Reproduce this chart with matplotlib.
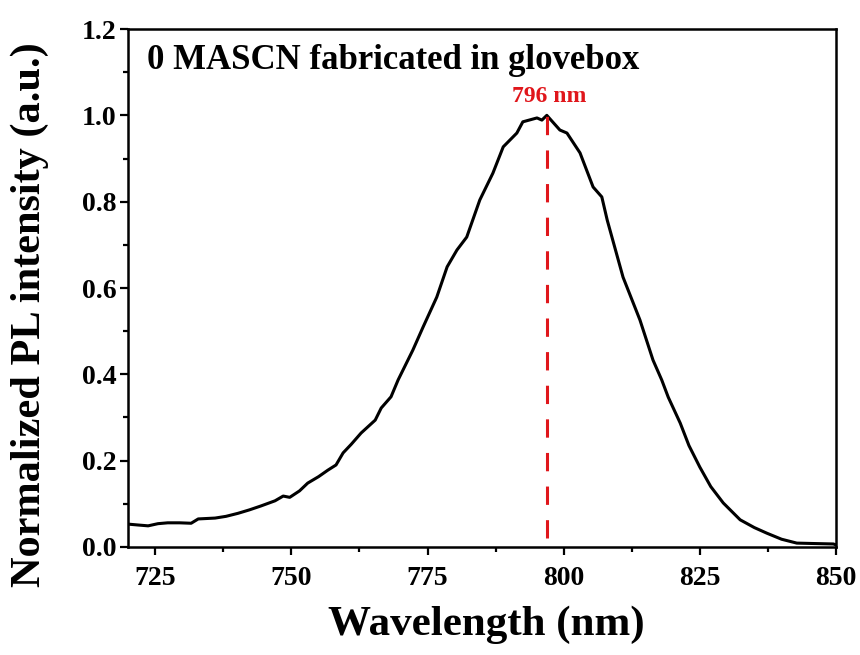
import numpy as np
import matplotlib
matplotlib.use("Agg")
import matplotlib.pyplot as plt
from matplotlib.ticker import MultipleLocator

# PL spectrum
wavelength = [720.0, 721.8, 723.7, 725.5, 727.3, 729.5, 731.6, 732.9, 736.0, 738.0,
              740.2, 742.3, 744.4, 747.0, 748.5, 749.7, 751.5, 753.0, 755.0, 756.7,
              758.2, 759.5, 761.0, 762.8, 765.4, 766.5, 768.3, 769.6, 772.3, 774.2,
              776.7, 778.6, 780.4, 782.2, 784.6, 787.0, 788.9, 791.4, 792.5, 795.1,
              796.0, 796.9, 799.3, 800.6, 803.0, 805.4, 807.0, 808.0, 810.9, 814.0,
              816.4, 818.0, 819.2, 821.4, 823.0, 825.0, 827.0, 829.3, 832.4, 835.0,
              837.3, 840.0, 842.8, 846.0, 849.5, 850.0]
intensity = [0.053, 0.051, 0.049, 0.054, 0.056, 0.056, 0.055, 0.065, 0.067, 0.071,
             0.078, 0.086, 0.095, 0.107, 0.118, 0.115, 0.130, 0.148, 0.163, 0.178,
             0.190, 0.218, 0.238, 0.264, 0.294, 0.322, 0.348, 0.387, 0.456, 0.510,
             0.579, 0.649, 0.688, 0.718, 0.804, 0.866, 0.927, 0.959, 0.985, 0.994,
             0.989, 1.000, 0.966, 0.959, 0.913, 0.834, 0.811, 0.757, 0.625, 0.526,
             0.433, 0.387, 0.347, 0.287, 0.235, 0.185, 0.140, 0.102, 0.063, 0.045,
             0.032, 0.018, 0.009, 0.008, 0.007, 0.005]

peak_nm = 796.9          # where the dashed marker sits (curve maximum)
peak_label = "796 nm"
title_text = "0 MASCN fabricated in glovebox"
x_ticks = [725, 750, 775, 800, 825, 850]
y_ticks = [0.0, 0.2, 0.4, 0.6, 0.8, 1.0, 1.2]

plt.rcParams["font.family"] = "Liberation Serif"
plt.rcParams["font.weight"] = "bold"

fig = plt.figure(figsize=(8.6, 6.55), dpi=100)
ax = fig.add_axes([0.1488, 0.1649, 0.8233, 0.7908])

ax.plot(wavelength, intensity, color="black", lw=2.2)
ax.plot([peak_nm, peak_nm], [0.02, 1.0], color="#e0161b", lw=2.2,
        dashes=(6, 5))
ax.text(peak_nm + 0.5, 1.044, peak_label, color="#e0161b", fontsize=17,
        fontweight="bold", ha="center", va="center")
ax.text(723.5, 1.127, title_text, fontsize=25, fontweight="bold",
        ha="left", va="center")

ax.set_xlim(720, 850)
ax.set_ylim(0, 1.2)
ax.set_xticks(x_ticks)
ax.set_yticks(y_ticks)
ax.set_yticklabels([f"{v:.1f}" for v in y_ticks])
ax.xaxis.set_minor_locator(MultipleLocator(12.5))
ax.yaxis.set_minor_locator(MultipleLocator(0.1))

ax.tick_params(which="both", direction="out", top=False, right=False,
               width=1.6, labelsize=20)
ax.tick_params(which="major", length=6)
ax.tick_params(axis="x", which="major", pad=8)
ax.tick_params(axis="y", which="major", pad=2)
ax.tick_params(which="minor", length=3.5)
for s in ax.spines.values():
    s.set_linewidth(1.8)

ax.set_xlabel("Wavelength (nm)", fontsize=31, fontweight="bold")
ax.xaxis.label.set_verticalalignment("center")
ax.xaxis.set_label_coords(0.506, -0.151)
ax.set_ylabel("Normalized PL intensity (a.u.)", fontsize=30.5,
              fontweight="bold")
ax.yaxis.label.set_verticalalignment("center")
ax.yaxis.set_label_coords(-0.138, 0.448)

fig.savefig("out.png", dpi=100)
